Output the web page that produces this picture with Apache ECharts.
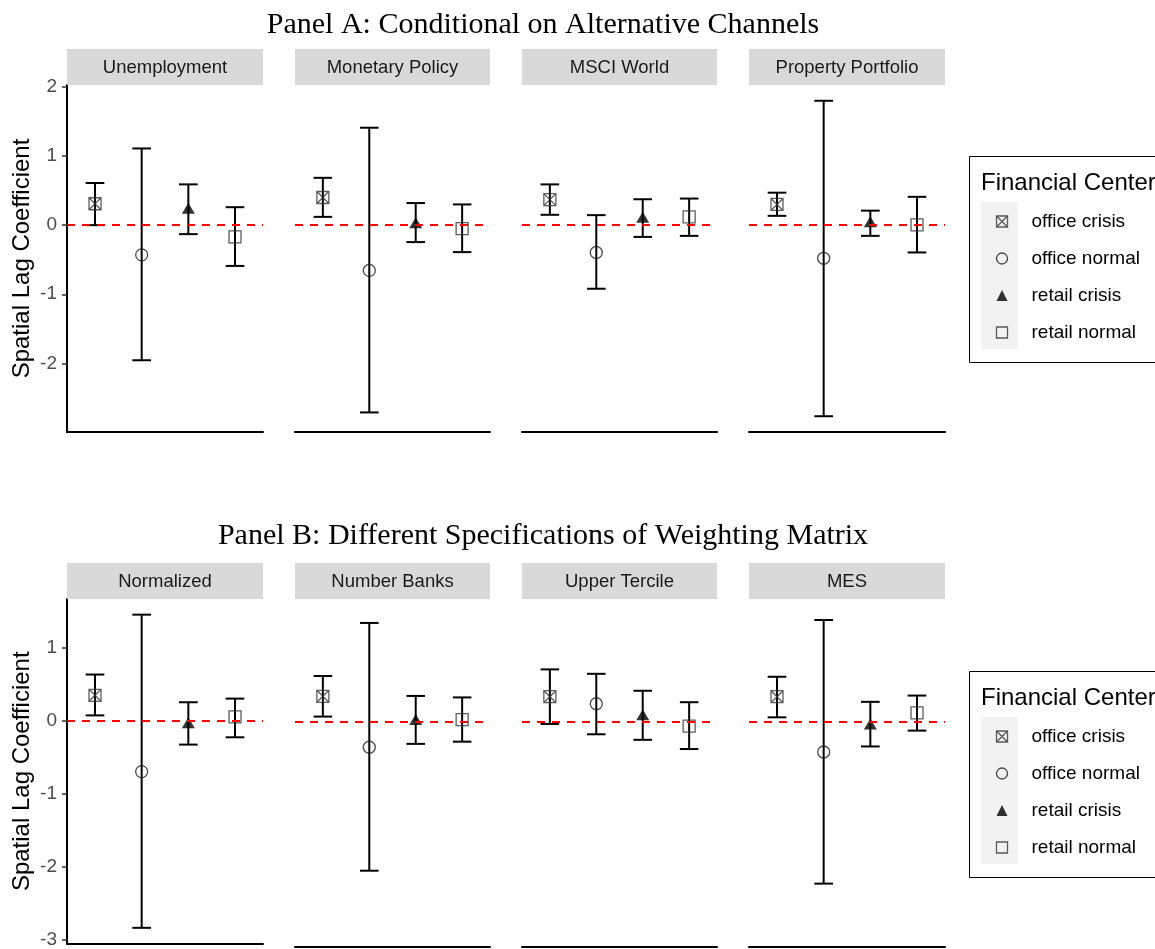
<!DOCTYPE html>
<html>
<head>
<meta charset="utf-8">
<script src="https://cdn.jsdelivr.net/npm/echarts@6/dist/echarts.min.js"></script>
<style>html,body{margin:0;padding:0;background:#fff}#chart{width:1155px;height:949px}</style>
</head>
<body>
<div id="chart"></div>
<script>
// ---------------- DATA ----------------
const titleA = 'Panel A: Conditional on Alternative Channels';
const titleB = 'Panel B: Different Specifications of Weighting Matrix';
const facetsA = ['Unemployment', 'Monetary Policy', 'MSCI World', 'Property Portfolio'];
const facetsB = ['Normalized', 'Number Banks', 'Upper Tercile', 'MES'];
const groups = ['office crisis', 'office normal', 'retail crisis', 'retail normal'];
const yTicksA = [-2, -1, 0, 1, 2];
const yTicksB = [-3, -2, -1, 0, 1];
// rows = facets, columns = groups
const estA = [
  [0.31, -0.43, 0.245, -0.17],
  [0.40, -0.655, 0.035, -0.05],
  [0.37, -0.395, 0.115, 0.12],
  [0.30, -0.48, 0.05, 0.005]
];
const lowA = [
  [0.00, -1.955, -0.13, -0.59],
  [0.12, -2.71, -0.245, -0.39],
  [0.15, -0.92, -0.17, -0.155],
  [0.135, -2.765, -0.155, -0.395]
];
const highA = [
  [0.61, 1.11, 0.59, 0.26],
  [0.685, 1.41, 0.32, 0.30],
  [0.59, 0.145, 0.375, 0.385],
  [0.47, 1.80, 0.21, 0.41]
];
const estB = [
  [0.345, -0.70, -0.03, 0.05],
  [0.345, -0.345, 0.03, 0.03],
  [0.34, 0.245, 0.095, -0.06],
  [0.34, -0.41, -0.03, 0.12]
];
const lowB = [
  [0.07, -2.84, -0.33, -0.23],
  [0.07, -2.02, -0.30, -0.27],
  [-0.03, -0.17, -0.245, -0.37],
  [0.06, -2.195, -0.335, -0.12]
];
const highB = [
  [0.63, 1.45, 0.25, 0.30],
  [0.62, 1.34, 0.35, 0.33],
  [0.71, 0.65, 0.42, 0.265],
  [0.61, 1.38, 0.27, 0.355]
];

// ---------------- STYLE / LAYOUT ----------------
const SANS = '"Liberation Sans", Arial, sans-serif';
const SERIF = '"Liberation Serif", "Times New Roman", serif';
const panelLefts = [67, 295, 522, 749];
const panelWidths = [196, 195, 195, 196];
const rows = [
  {top: 85, height: 347, stripTop: 49, title: titleA, titleY: 25, facets: facetsA, est: estA, low: lowA, high: highA, ticks: yTicksA, legendTop: 156},
  {top: 599, height: 348, stripTop: 563, title: titleB, titleY: 536, facets: facetsB, est: estB, low: lowB, high: highB, ticks: yTicksB, legendTop: 671}
];
const symbolOf = {
  'office crisis': 'path://M0,0L10,0L10,10L0,10ZM0,0L10,10M10,0L0,10',
  'office normal': 'circle',
  'retail crisis': 'triangle',
  'retail normal': 'rect'
};
const sizeOf = {'office crisis': 12, 'office normal': 12, 'retail crisis': [13, 11], 'retail normal': 12};
const styleOf = {
  'office crisis': {color: 'none', borderColor: '#333', borderWidth: 1.3},
  'office normal': {color: 'none', borderColor: '#1a1a1a', borderWidth: 1.3},
  'retail crisis': {color: '#000', borderWidth: 0},
  'retail normal': {color: 'none', borderColor: '#333', borderWidth: 1.3}
};

function rangeOf(low, high) {
  const lo = Math.min(...low.flat()), hi = Math.max(...high.flat());
  const pad = (hi - lo) * 0.05;
  return [lo - pad, hi + pad];
}

function renderErr(params, api) {
  const x = api.value(0), lo = api.value(1), hi = api.value(2);
  const top = api.coord([x, hi]), bot = api.coord([x, lo]);
  const l = api.coord([x - 0.2, hi])[0], r = api.coord([x + 0.2, hi])[0];
  const st = {stroke: '#000', lineWidth: 2};
  return {
    type: 'group',
    children: [
      {type: 'line', shape: {x1: top[0], y1: top[1], x2: bot[0], y2: bot[1]}, style: st},
      {type: 'line', shape: {x1: l, y1: top[1], x2: r, y2: top[1]}, style: st},
      {type: 'line', shape: {x1: l, y1: bot[1], x2: r, y2: bot[1]}, style: st}
    ]
  };
}

const grids = [], xAxes = [], yAxes = [], series = [], graphics = [], legends = [];
rows.forEach((row, ri) => {
  const [ymin, ymax] = rangeOf(row.low, row.high);
  graphics.push({
    type: 'text', z: 10,
    style: {text: row.title, x: 543, y: row.titleY, align: 'center', verticalAlign: 'middle',
            font: '30px ' + SERIF, fill: '#000'}
  });
  row.facets.forEach((facet, fi) => {
    const idx = ri * 4 + fi;
    grids.push({left: panelLefts[fi], top: row.top, width: panelWidths[fi], height: row.height, containLabel: false});
    xAxes.push({
      type: 'value', gridIndex: idx, min: 0.4, max: 4.6,
      axisLine: {show: true, onZero: false, lineStyle: {color: '#000', width: 2}},
      axisTick: {show: false}, axisLabel: {show: false}, splitLine: {show: false}
    });
    const first = fi === 0;
    yAxes.push({
      type: 'value', gridIndex: idx, min: ymin, max: ymax,
      name: first ? 'Spatial Lag Coefficient' : '',
      nameLocation: 'middle', nameGap: 33,
      nameTextStyle: {fontSize: 24, color: '#000', fontFamily: SANS},
      axisLine: {show: first, onZero: false, lineStyle: {color: '#000', width: 2}},
      axisTick: {show: first, length: 5, customValues: row.ticks, lineStyle: {color: '#333', width: 1.5}},
      axisLabel: {show: first, customValues: row.ticks, fontSize: 19, color: '#4D4D4D', fontFamily: SANS, margin: 10},
      splitLine: {show: false}
    });
    // facet strip
    graphics.push({
      type: 'rect', z: 1,
      shape: {x: panelLefts[fi], y: row.stripTop, width: panelWidths[fi], height: row.top - row.stripTop},
      style: {fill: '#D9D9D9'}
    });
    graphics.push({
      type: 'text', z: 2,
      style: {text: facet, x: panelLefts[fi] + panelWidths[fi] / 2, y: (row.stripTop + row.top) / 2 + 1,
              align: 'center', verticalAlign: 'middle', font: '18.5px ' + SANS, fill: '#1A1A1A'}
    });
    // error bars
    series.push({
      type: 'custom', name: 'ci-' + idx, xAxisIndex: idx, yAxisIndex: idx,
      renderItem: renderErr, silent: true, z: 3,
      encode: {x: 0, y: [1, 2]},
      data: groups.map((g, gi) => [gi + 1, row.low[fi][gi], row.high[fi][gi]])
    });
    // points
    groups.forEach((g, gi) => {
      const s = {
        type: 'scatter', name: g, xAxisIndex: idx, yAxisIndex: idx,
        symbol: symbolOf[g], symbolSize: sizeOf[g], itemStyle: styleOf[g], z: 4,
        data: [[gi + 1, row.est[fi][gi]]]
      };
      if (gi === 3) {
        s.markLine = {
          silent: true, symbol: ['none', 'none'], label: {show: false}, z: 6,
          lineStyle: {color: '#FF0000', width: 2, type: [8, 7]},
          data: [{yAxis: 0}]
        };
      }
      series.push(s);
    });
  });
  // legend decorations
  const lt = row.legendTop;
  graphics.push({type: 'rect', z: 0, shape: {x: 969.5, y: lt + 0.5, width: 300, height: 206},
                 style: {fill: '#fff', stroke: '#000', lineWidth: 1}});
  graphics.push({type: 'rect', z: 1, shape: {x: 981, y: lt + 46, width: 37, height: 147},
                 style: {fill: '#F2F2F2'}});
  graphics.push({type: 'text', z: 2, style: {text: 'Financial Center', x: 981, y: lt + 27,
                 align: 'left', verticalAlign: 'middle', font: '24px ' + SANS, fill: '#000'}});
  legends.push({
    orient: 'vertical', left: 994, top: lt + 56, padding: 0,
    itemWidth: 11, itemHeight: 11, itemGap: 18, selectedMode: false,
    textStyle: {fontSize: 19, lineHeight: 19, color: '#000', fontFamily: SANS, padding: [0, 0, 0, 19]},
    data: groups.map(g => ({name: g, icon: symbolOf[g], itemStyle: styleOf[g]}))
  });
});

const chart = echarts.init(document.getElementById('chart'), null, {renderer: 'canvas'});
chart.setOption({
  animation: false,
  backgroundColor: '#fff',
  grid: grids, xAxis: xAxes, yAxis: yAxes, series: series,
  legend: legends,
  graphic: graphics
});
</script>
</body>
</html>
